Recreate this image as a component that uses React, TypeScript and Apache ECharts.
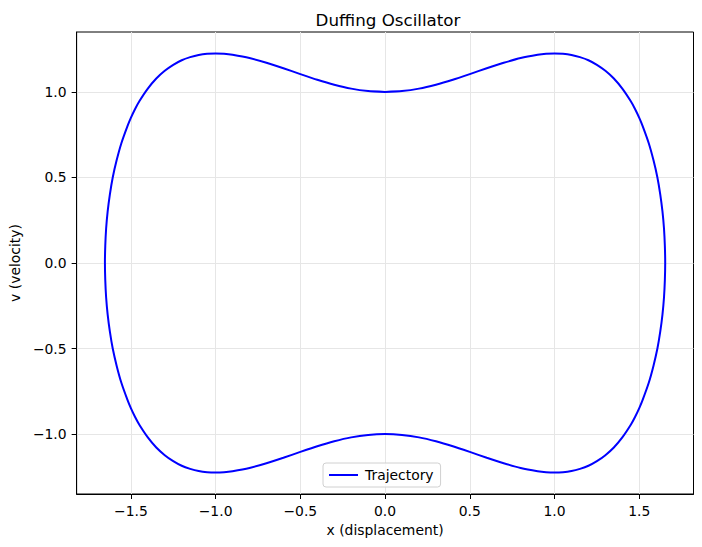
import React, { useEffect, useRef } from "react";
import * as echarts from "echarts";

const title = "Duffing Oscillator";
const xName = "x (displacement)";
const yName = "v (velocity)";
const seriesName = "Trajectory";

const xTicks = [-1.5, -1.0, -0.5, 0.0, 0.5, 1.0, 1.5];
const yTicks = [-1.0, -0.5, 0.0, 0.5, 1.0];

// upper-right arc: from (0, 1) to (1.653, 0)
const arcUpperRight: number[][] = [
  [0, 1.0], [0.1, 1.005], [0.2, 1.019], [0.3, 1.042], [0.4, 1.071], [0.5, 1.104],
  [0.6, 1.138], [0.7, 1.17], [0.8, 1.198], [0.9, 1.217], [0.95, 1.223], [1.0, 1.225],
  [1.05, 1.223], [1.1, 1.216], [1.15, 1.203], [1.2, 1.185], [1.25, 1.158], [1.3, 1.123],
  [1.35, 1.078], [1.4, 1.019], [1.45, 0.945], [1.475, 0.9], [1.5, 0.848], [1.52, 0.8],
  [1.556, 0.7], [1.584, 0.6], [1.607, 0.5], [1.624, 0.4], [1.637, 0.3], [1.646, 0.2],
  [1.651, 0.1], [1.653, 0],
];
// lower-right arc: from (1.653, 0) to (0, -1)
const arcLowerRight: number[][] = [
  [1.651, -0.1], [1.646, -0.2], [1.637, -0.3], [1.624, -0.4], [1.607, -0.5],
  [1.584, -0.6], [1.556, -0.7], [1.52, -0.8], [1.5, -0.848], [1.475, -0.9],
  [1.45, -0.945], [1.4, -1.019], [1.35, -1.078], [1.3, -1.123], [1.25, -1.158],
  [1.2, -1.185], [1.15, -1.203], [1.1, -1.216], [1.05, -1.223], [1.0, -1.225],
  [0.95, -1.223], [0.9, -1.217], [0.8, -1.198], [0.7, -1.17], [0.6, -1.138],
  [0.5, -1.104], [0.4, -1.071], [0.3, -1.042], [0.2, -1.019], [0.1, -1.005], [0, -1.0],
];
// lower-left arc: from (0, -1) to (-1.653, 0)
const arcLowerLeft: number[][] = [
  [-0.1, -1.005], [-0.2, -1.019], [-0.3, -1.042], [-0.4, -1.071], [-0.5, -1.104],
  [-0.6, -1.138], [-0.7, -1.17], [-0.8, -1.198], [-0.9, -1.217], [-0.95, -1.223],
  [-1.0, -1.225], [-1.05, -1.223], [-1.1, -1.216], [-1.15, -1.203], [-1.2, -1.185],
  [-1.25, -1.158], [-1.3, -1.123], [-1.35, -1.078], [-1.4, -1.019], [-1.45, -0.945],
  [-1.475, -0.9], [-1.5, -0.848], [-1.52, -0.8], [-1.556, -0.7], [-1.584, -0.6],
  [-1.607, -0.5], [-1.624, -0.4], [-1.637, -0.3], [-1.646, -0.2], [-1.651, -0.1], [-1.653, 0],
];
// upper-left arc: from (-1.653, 0) back to (0, 1)
const arcUpperLeft: number[][] = [
  [-1.651, 0.1], [-1.646, 0.2], [-1.637, 0.3], [-1.624, 0.4], [-1.607, 0.5],
  [-1.584, 0.6], [-1.556, 0.7], [-1.52, 0.8], [-1.5, 0.848], [-1.475, 0.9],
  [-1.45, 0.945], [-1.4, 1.019], [-1.35, 1.078], [-1.3, 1.123], [-1.25, 1.158],
  [-1.2, 1.185], [-1.15, 1.203], [-1.1, 1.216], [-1.05, 1.223], [-1.0, 1.225],
  [-0.95, 1.223], [-0.9, 1.217], [-0.8, 1.198], [-0.7, 1.17], [-0.6, 1.138],
  [-0.5, 1.104], [-0.4, 1.071], [-0.3, 1.042], [-0.2, 1.019], [-0.1, 1.005], [0, 1.0],
];

const FONT = "DejaVu Sans";
const fmt = (v: number) => v.toFixed(1).replace("-", "\u2212");

export default function App() {
  const ref = useRef<HTMLDivElement>(null);
  useEffect(() => {
    if (!ref.current) return;
    const chart = echarts.init(ref.current, undefined, { renderer: "svg" });
    const data = [...arcUpperRight, ...arcLowerRight, ...arcLowerLeft, ...arcUpperLeft];
    const axisCommon = {
      type: "value" as const,
      nameLocation: "middle" as const,
      nameTextStyle: { fontFamily: FONT, fontSize: 13.9, color: "#000" },
      axisLine: { show: true, onZero: false, lineStyle: { color: "#000", width: 1 } },
      axisTick: { show: true, inside: false, length: 5, lineStyle: { color: "#000", width: 1 } },
      axisLabel: { fontFamily: FONT, fontSize: 13.9, color: "#000", margin: 10, formatter: (v: number) => fmt(v) },
      splitLine: { show: true, lineStyle: { color: "#e6e6e6", width: 1 } },
    };
    chart.setOption({
      animation: false,
      backgroundColor: "#fff",
      title: {
        text: title,
        left: 383,
        top: 6,
        textAlign: "center",
        textStyle: { fontFamily: FONT, fontSize: 16.7, fontWeight: "normal", color: "#000" },
      },
      grid: { left: 73, right: 8.5, top: 32, bottom: 53, containLabel: false, show: true, borderColor: "#000", borderWidth: 1 },
      xAxis: {
        ...axisCommon,
        min: -1.82,
        max: 1.82,
        name: xName,
        nameGap: 27,
        axisTick: { ...axisCommon.axisTick, customValues: xTicks },
        axisLabel: { ...axisCommon.axisLabel, customValues: xTicks },
      },
      yAxis: {
        ...axisCommon,
        min: -1.35,
        max: 1.35,
        name: yName,
        nameGap: 50,
        axisTick: { ...axisCommon.axisTick, customValues: yTicks },
        axisLabel: { ...axisCommon.axisLabel, customValues: yTicks },
      },
      legend: {
        data: [seriesName],
        left: 323,
        top: 463,
        icon: "rect",
        itemWidth: 29,
        itemHeight: 2,
        itemGap: 10,
        padding: [5, 7, 5, 6],
        borderColor: "#d0d0d0",
        borderWidth: 1,
        borderRadius: 3,
        backgroundColor: "rgba(255,255,255,0.8)",
        textStyle: { fontFamily: FONT, fontSize: 13.9, color: "#000", padding: [0, 0, 0, 2] },
      },
      series: [
        {
          name: seriesName,
          type: "line",
          data,
          showSymbol: false,
          symbol: "none",
          smooth: 0.2,
          lineStyle: { color: "#0000ff", width: 2 },
          itemStyle: { color: "#0000ff" },
        },
      ],
    });
    return () => chart.dispose();
  }, []);
  return <div ref={ref} style={{ width: 702, height: 547, position: "absolute", left: 0, top: 0 }} />;
}
